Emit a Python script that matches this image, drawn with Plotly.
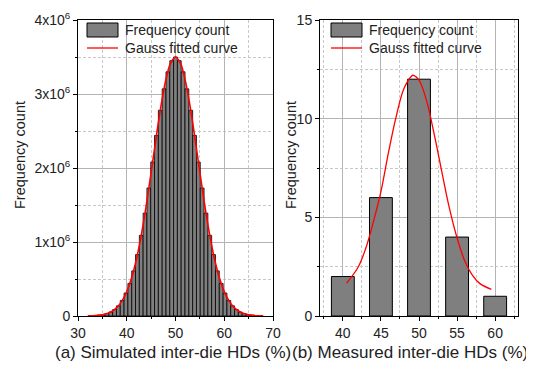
import plotly.graph_objects as go

# ---- data: (a) simulated inter-die HDs ----
sim_hd = [32.81, 33.59, 34.38, 35.16, 35.94, 36.72, 37.50, 38.28, 39.06, 39.84,
          40.63, 41.41, 42.19, 42.97, 43.75, 44.53, 45.31, 46.09, 46.88, 47.66,
          48.44, 49.22, 50.00, 50.78, 51.56, 52.34, 53.13, 53.91, 54.69, 55.47,
          56.25, 57.03, 57.81, 58.59, 59.38, 60.16, 60.94, 61.72, 62.50, 63.28,
          64.06, 64.84, 65.63, 66.41, 67.19]
sim_count_m = [0.003, 0.006, 0.011, 0.019, 0.033, 0.054, 0.087, 0.137, 0.21, 0.31,
               0.44, 0.61, 0.83, 1.09, 1.39, 1.73, 2.08, 2.44, 2.78, 3.07,
               3.30, 3.45, 3.50, 3.45, 3.30, 3.07, 2.78, 2.44, 2.08, 1.73,
               1.39, 1.09, 0.83, 0.61, 0.44, 0.31, 0.21, 0.137, 0.087, 0.054,
               0.033, 0.019, 0.011, 0.006, 0.003]
sim_fit_x = [32, 33, 34, 35, 36, 37, 38, 39, 40, 41, 42, 43, 44, 45, 46, 47, 48, 49, 50,
             51, 52, 53, 54, 55, 56, 57, 58, 59, 60, 61, 62, 63, 64, 65, 66, 67, 68]
sim_fit_m = [0.0017, 0.0038, 0.0083, 0.0172, 0.0341, 0.0646, 0.1165, 0.2006, 0.329, 0.516,
             0.771, 1.100, 1.495, 1.939, 2.398, 2.829, 3.185, 3.418, 3.5,
             3.418, 3.185, 2.829, 2.398, 1.939, 1.495, 1.100, 0.771, 0.516, 0.329,
             0.2006, 0.1165, 0.0646, 0.0341, 0.0172, 0.0083, 0.0038, 0.0017]
sim_yticks = [0, 1, 2, 3, 4]
sim_yticktext = ["0", "1x10<sup>6</sup>", "2x10<sup>6</sup>", "3x10<sup>6</sup>", "4x10<sup>6</sup>"]

# ---- data: (b) measured inter-die HDs ----
meas_hd = [40, 45, 50, 55, 60]
meas_count = [2, 6, 12, 4, 1]
meas_fit_x = [40.5, 42, 43, 44, 45, 46, 47, 48, 49, 49.2, 50, 51, 52, 53, 54, 55, 56, 57, 58, 59.5]
meas_fit_y = [1.67, 2.47, 3.42, 4.76, 6.3, 8.3, 10.1, 11.5, 12.15, 12.2, 11.95, 10.9,
              9.2, 7.3, 5.45, 3.95, 2.8, 2.07, 1.64, 1.35]

legend_labels = ["Frequency count", "Gauss fitted curve"]

FONT = "Liberation Sans, Arial, sans-serif"
GRAY_BAR = "#7f7f7f"
TXT = "#222"

# page body has an 8px margin: figure is drawn 8px in from the window edges
OFF = 8
WIN_W, WIN_H = 534, 365
W, H = WIN_W - OFF, WIN_H - OFF
TOP, BOTTOM = 20, 316          # plot area top/bottom in window pixels
PH = BOTTOM - TOP

def px(x):   # window x-pixel -> paper
    return (x - OFF) / W

def py(y):   # window y-pixel -> paper
    return (BOTTOM - y) / PH

fig = go.Figure()
fig.add_trace(go.Bar(x=sim_hd, y=sim_count_m, width=0.78, name=legend_labels[0],
                     marker=dict(color=GRAY_BAR, line=dict(color="black", width=0.8)),
                     xaxis="x", yaxis="y", showlegend=False))
fig.add_trace(go.Scatter(x=sim_fit_x, y=sim_fit_m, mode="lines", name=legend_labels[1],
                         line=dict(color="red", width=1.6, shape="spline"),
                         xaxis="x", yaxis="y", showlegend=False))
fig.add_trace(go.Bar(x=meas_hd, y=meas_count, width=3, name=legend_labels[0],
                     marker=dict(color=GRAY_BAR, line=dict(color="black", width=1)),
                     xaxis="x2", yaxis="y2", showlegend=False))
fig.add_trace(go.Scatter(x=meas_fit_x, y=meas_fit_y, mode="lines", name=legend_labels[1],
                         line=dict(color="red", width=1.3, shape="spline"),
                         xaxis="x2", yaxis="y2", showlegend=False))

def minor(dt):
    return dict(dtick=dt, showgrid=True, griddash="3px,2px", gridcolor="#c8c8c8",
                ticks="outside", ticklen=2, tickcolor="black")

def axis_common():
    return dict(showline=True, linecolor="black", linewidth=1, mirror=True,
                ticks="outside", ticklen=4, tickcolor="black", tickwidth=1,
                showgrid=True, gridcolor="#b4b4b4", gridwidth=1, zeroline=False,
                automargin=False,
                tickfont=dict(family=FONT, size=14, color=TXT))

xa = axis_common(); xa.update(domain=[px(78), px(273)], range=[30, 70], dtick=10, tick0=30,
                               anchor="y", minor=minor(5))
ya = axis_common(); ya.update(range=[0, 4], tickvals=sim_yticks, ticktext=sim_yticktext,
                               anchor="x", minor=minor(0.5))
xb = axis_common(); xb.update(domain=[px(320), px(518)], range=[37, 63], dtick=5, tick0=40,
                               anchor="y2", minor=minor(2.5))
yb = axis_common(); yb.update(range=[0, 15], dtick=5, anchor="x2", minor=minor(2.5))

def ann(text, x, y, angle=0, size=14, xanchor="center"):
    return dict(text=text, x=px(x), y=py(y), xref="paper", yref="paper",
                xanchor=xanchor, yanchor="middle", textangle=angle, showarrow=False,
                font=dict(family=FONT, size=size, color=TXT))

annotations = [
    ann("Frequency count", 20, 155, -90, size=14.5),
    ann("Frequency count", 291, 155, -90, size=14.5),
    ann("(a) Simulated inter-die HDs (%)", 173, 352, size=17),
    ann("(b) Measured inter-die HDs (%)", 290, 352, size=17, xanchor="left"),
]
shapes = []
# hand-drawn legends (wide patch + line, like the original)
for lx, ty in [(87, 23), (331, 23)]:
    shapes.append(dict(type="rect", xref="paper", yref="paper",
                       x0=px(lx), x1=px(lx + 31), y0=py(ty), y1=py(ty + 14),
                       fillcolor=GRAY_BAR, line=dict(color="black", width=1)))
    shapes.append(dict(type="line", xref="paper", yref="paper",
                       x0=px(lx), x1=px(lx + 31), y0=py(ty + 25), y1=py(ty + 25),
                       line=dict(color="red", width=1.3)))
    annotations.append(ann(legend_labels[0], lx + 36, ty + 7, size=14, xanchor="left"))
    annotations.append(ann(legend_labels[1], lx + 36, ty + 25, size=14, xanchor="left"))

fig.update_layout(
    width=W, height=H, paper_bgcolor="white", plot_bgcolor="white",
    margin=dict(l=0, r=0, t=TOP - OFF, b=H - (BOTTOM - OFF), autoexpand=False),
    xaxis=xa, yaxis=ya, xaxis2=xb, yaxis2=yb,
    barmode="overlay", showlegend=False,
    annotations=annotations, shapes=shapes,
)
fig.write_html("out.html")
